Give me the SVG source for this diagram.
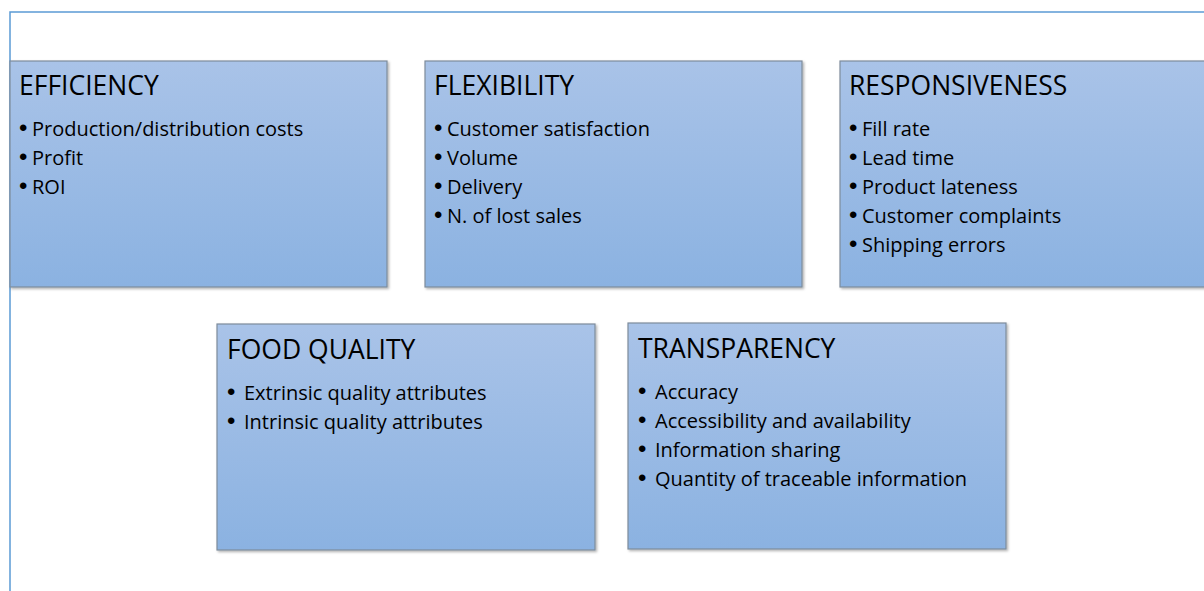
<svg xmlns="http://www.w3.org/2000/svg" width="1204" height="591" viewBox="0 0 1204 591">
<defs>
<linearGradient id="g" x1="0" y1="0" x2="0" y2="1">
<stop offset="0" stop-color="#A9C3E8"/>
<stop offset="1" stop-color="#8BB2E1"/>
</linearGradient>
<filter id="sh" x="-5%" y="-5%" width="110%" height="110%">
<feDropShadow dx="1.5" dy="1.5" stdDeviation="1" flood-color="#000" flood-opacity="0.3"/>
</filter>
</defs>
<style>
.box{fill:url(#g);stroke:#7E8C9C;stroke-width:1.2;filter:url(#sh)}
.t{font-family:"Open Sans","Liberation Sans",sans-serif;font-size:26.5px;fill:#000}
.b{font-family:"Open Sans","Liberation Sans",sans-serif;font-size:20px;fill:#000}
.d{font-family:"Liberation Sans",sans-serif;font-size:24px}
.frame{fill:none;stroke:#5B9BD5;stroke-width:1.5}
</style>
<rect width="1204" height="591" fill="#fff"/>
<path class="frame" d="M10,591 V12 H1204"/>
<g id="efficiency">
<rect class="box" x="10" y="61" width="377" height="226"/>
<text class="t" x="19" y="95">EFFICIENCY</text>
<text class="b" x="19" y="136"><tspan class="d">•</tspan><tspan x="32">Production/distribution costs</tspan></text>
<text class="b" x="19" y="165"><tspan class="d">•</tspan><tspan x="32">Profit</tspan></text>
<text class="b" x="19" y="194"><tspan class="d">•</tspan><tspan x="32">ROI</tspan></text>
</g>
<g id="flexibility">
<rect class="box" x="425" y="61" width="377" height="226"/>
<text class="t" x="434" y="95">FLEXIBILITY</text>
<text class="b" x="434" y="136"><tspan class="d">•</tspan><tspan x="447">Customer satisfaction</tspan></text>
<text class="b" x="434" y="165"><tspan class="d">•</tspan><tspan x="447">Volume</tspan></text>
<text class="b" x="434" y="194"><tspan class="d">•</tspan><tspan x="447">Delivery</tspan></text>
<text class="b" x="434" y="223"><tspan class="d">•</tspan><tspan x="447">N. of lost sales</tspan></text>
</g>
<g id="responsiveness">
<rect class="box" x="840" y="61" width="377" height="226"/>
<text class="t" x="849" y="95">RESPONSIVENESS</text>
<text class="b" x="849" y="136"><tspan class="d">•</tspan><tspan x="862">Fill rate</tspan></text>
<text class="b" x="849" y="165"><tspan class="d">•</tspan><tspan x="862">Lead time</tspan></text>
<text class="b" x="849" y="194"><tspan class="d">•</tspan><tspan x="862">Product lateness</tspan></text>
<text class="b" x="849" y="223"><tspan class="d">•</tspan><tspan x="862">Customer complaints</tspan></text>
<text class="b" x="849" y="252"><tspan class="d">•</tspan><tspan x="862">Shipping errors</tspan></text>
</g>
<g id="food-quality">
<rect class="box" x="217" y="324" width="378" height="226"/>
<text class="t" x="227" y="359">FOOD QUALITY</text>
<text class="b" x="227" y="400"><tspan class="d">•</tspan><tspan x="244">Extrinsic quality attributes</tspan></text>
<text class="b" x="227" y="429"><tspan class="d">•</tspan><tspan x="244">Intrinsic quality attributes</tspan></text>
</g>
<g id="transparency">
<rect class="box" x="628" y="323" width="378" height="226"/>
<text class="t" x="638" y="358">TRANSPARENCY</text>
<text class="b" x="638" y="399"><tspan class="d">•</tspan><tspan x="655">Accuracy</tspan></text>
<text class="b" x="638" y="428"><tspan class="d">•</tspan><tspan x="655">Accessibility and availability</tspan></text>
<text class="b" x="638" y="457"><tspan class="d">•</tspan><tspan x="655">Information sharing</tspan></text>
<text class="b" x="638" y="486"><tspan class="d">•</tspan><tspan x="655">Quantity of traceable information</tspan></text>
</g>
<g id="connectors"></g>
</svg>
